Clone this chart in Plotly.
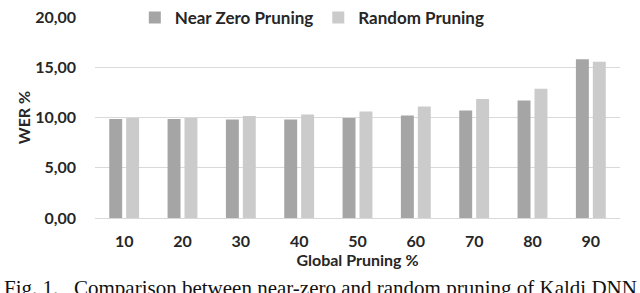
import plotly.graph_objects as go

categories = ["10", "20", "30", "40", "50", "60", "70", "80", "90"]
near_zero = [9.85, 9.85, 9.8, 9.8, 9.95, 10.2, 10.7, 11.7, 15.8]
random_pruning = [9.95, 9.95, 10.15, 10.3, 10.6, 11.1, 11.85, 12.85, 15.55]
y_tickvals = [0, 5, 10, 15, 20]
y_ticktext = ["0,00", "5,00", "10,00", "15,00", "20,00"]

FONT = "Lato"

fig = go.Figure()
fig.add_trace(go.Bar(name="Near Zero Pruning", x=categories, y=near_zero,
                     marker=dict(color="#a5a5a5", line=dict(width=0))))
fig.add_trace(go.Bar(name="Random Pruning", x=categories, y=random_pruning,
                     marker=dict(color="#cbcbcb", line=dict(width=0))))

fig.update_layout(
    width=640, height=293,
    margin=dict(l=95, r=20, t=17, b=75, autoexpand=False),
    paper_bgcolor="white", plot_bgcolor="white",
    barmode="group", bargap=0.42, bargroupgap=0.235,
    font=dict(family=FONT, size=15, color="#262626", weight="bold"),
    legend=dict(orientation="h", x=0.488, xanchor="center", xref="container",
                y=1.0, yanchor="top", yref="container",
                font=dict(family=FONT, size=17, color="#262626", weight="bold"),
                itemwidth=30, tracegroupgap=0, bgcolor="rgba(0,0,0,0)"),
    xaxis=dict(showgrid=False, showline=True, linecolor="#d9d9d9", linewidth=1,
               ticks="", ticklabelstandoff=9,
               tickfont=dict(family=FONT, size=16, weight="bold"),
               title=dict(text="Global Pruning %", standoff=5,
                          font=dict(family=FONT, size=16, weight="bold"))),
    yaxis=dict(range=[0, 20], tickvals=y_tickvals, ticktext=y_ticktext,
               showgrid=True, gridcolor="#d9d9d9", gridwidth=1, zeroline=False,
               ticks="", ticklabelstandoff=18,
               tickfont=dict(family=FONT, size=16, weight="bold"),
               title=dict(text="WER %", standoff=0,
                          font=dict(family=FONT, size=16, weight="bold"))),
    annotations=[dict(text="Fig. 1.   Comparison between near-zero and random pruning of Kaldi DNN",
                      xref="paper", yref="paper", x=-0.177, y=-0.277,
                      xanchor="left", yanchor="top", showarrow=False,
                      font=dict(family="Liberation Serif", size=21, color="#111111",
                                weight="normal"))],
)

fig.write_html("out.html", config={"displayModeBar": False},
               post_script="document.body.style.margin='0';")
